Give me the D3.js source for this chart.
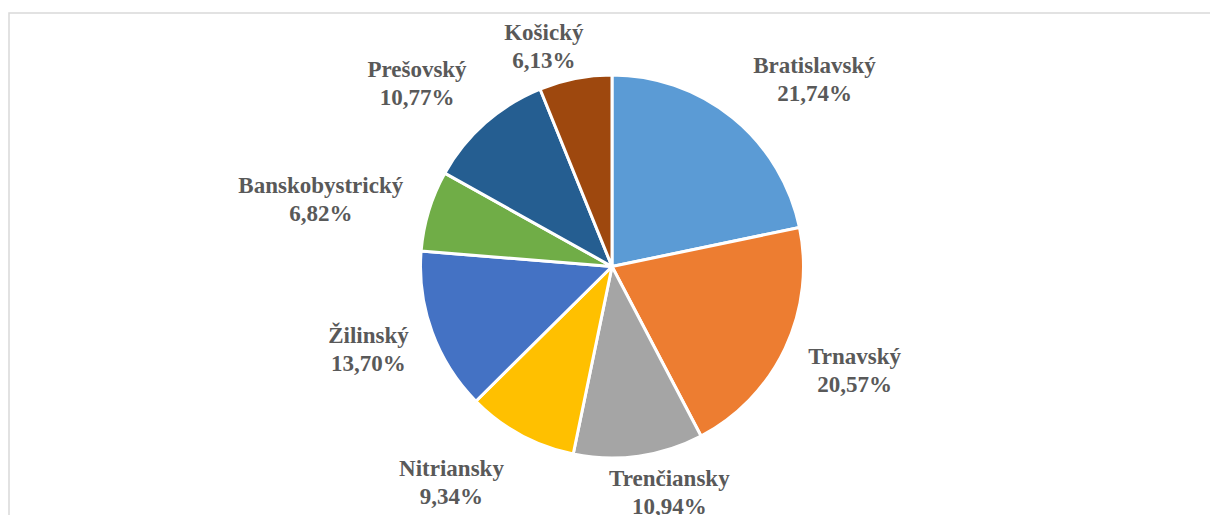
<!DOCTYPE html>
<html>
<head>
<meta charset="utf-8">
<script src="https://cdn.jsdelivr.net/npm/d3@7"></script>
<style>
    body { margin: 0; background: #fff; }
    svg { display: block; }
</style>
</head>
<body>
<svg width="1210" height="515"></svg>
<script>
// kraje a ich podiely (%)
const regions = ["Bratislavský", "Trnavský", "Trenčiansky", "Nitriansky",
                 "Žilinský", "Banskobystrický", "Prešovský", "Košický"];
const shares = [21.74, 20.57, 10.94, 9.34, 13.70, 6.82, 10.77, 6.13];
const colors = ["#5B9BD5", "#ED7D31", "#A5A5A5", "#FFC000",
                "#4472C4", "#70AD47", "#255E91", "#9E480E"];

// doladenie polohy popisiek (ako v Exceli "best fit")
const labelNudge = [[14, -9], [14, -4], [-31, 4.5], [-12, 17],
                    [-14, -8], [-16, 13], [-12, -10], [10, -1]];

const svg = d3.select("svg");
const attr_area = { cx: 612, cy: 266.5, r: 191.5, gap: 10, lineH: 28, boxH: 43 };

// ramik grafu
svg.append("rect")
    .attr("x", 9).attr("y", 13)
    .attr("width", 1300).attr("height", 700)
    .attr("fill", "none")
    .attr("stroke", "#d9d9d9")
    .attr("stroke-width", 1.5);

const data = regions.map((name, i) => ({ name: name, value: shares[i], color: colors[i] }));

const pie = d3.pie().sort(null).value(d => d.value);
const arcs = pie(data);
const arc = d3.arc().innerRadius(0).outerRadius(attr_area.r);

const g = svg.append("g")
    .attr("transform", `translate(${attr_area.cx}, ${attr_area.cy})`);

g.selectAll("path")
    .data(arcs)
    .enter()
    .append("path")
    .attr("d", arc)
    .attr("fill", d => d.data.color)
    .attr("stroke", "#fff")
    .attr("stroke-width", 3)
    .attr("stroke-linejoin", "round");

const fmt = v => v.toFixed(2).replace(".", ",") + "%";

const labels = g.selectAll("text.lbl")
    .data(arcs)
    .enter()
    .append("text")
    .attr("class", "lbl")
    .attr("text-anchor", "middle")
    .style("font-family", "'Liberation Serif', 'Times New Roman', serif")
    .style("font-weight", "bold")
    .style("font-size", "23px")
    .style("fill", "#595959");

labels.append("tspan").attr("class", "l1").text(d => d.data.name);
labels.append("tspan").attr("class", "l2").text(d => fmt(d.data.value));

labels.each(function(d, i) {
    const t = d3.select(this);
    // sirka boxu = najdlhsi riadok
    const w = Math.max(t.select(".l1").node().getComputedTextLength(),
                       t.select(".l2").node().getComputedTextLength());
    const a = (d.startAngle + d.endAngle) / 2;
    const s = Math.sin(a), c = Math.cos(a);
    const R = attr_area.r + attr_area.gap;
    // kotva na obvode + posun rohu boxu smerom von
    const x = R * s + Math.sign(s) * w / 2 + labelNudge[i][0];
    const y = -R * c - Math.sign(c) * attr_area.boxH / 2 + labelNudge[i][1];
    const base = y - 6.5;
    t.select(".l1").attr("x", x).attr("y", base);
    t.select(".l2").attr("x", x).attr("y", base + attr_area.lineH);
});
</script>
</body>
</html>
